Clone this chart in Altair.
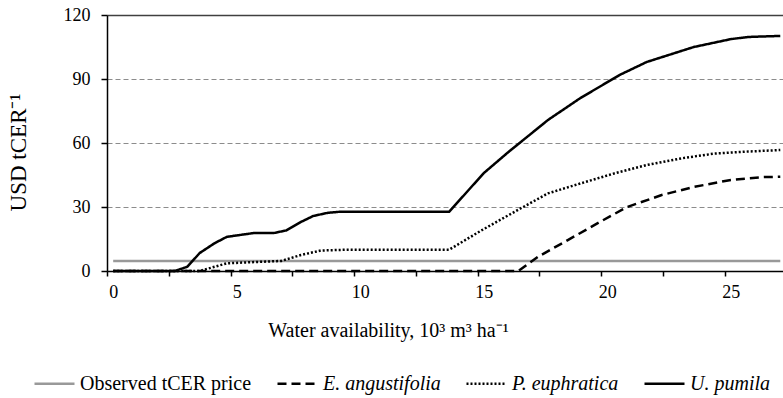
import altair as alt
import pandas as pd

# ---- data ----
series_names = ["Observed tCER price", "E. angustifolia", "P. euphratica", "U. pumila"]

obs_x = [0, 27.0]
obs_y = [4.7, 4.7]

ea_x = [0, 16.4, 17.2, 18.4, 19.7, 20.8, 22.2, 23.5, 25.0, 26.3, 27.0]
ea_y = [0, 0, 6.7, 14.5, 23.0, 30.0, 35.6, 39.4, 42.7, 44.0, 44.2]

pe_x = [0, 3.5, 4.6, 5.7, 6.8, 7.6, 8.4, 9.5, 13.6, 14.9, 16.5, 17.6, 18.9, 20.3, 21.6, 23.0, 24.3, 25.7, 27.0]
pe_y = [0, 0, 3.6, 4.2, 4.7, 7.5, 9.6, 10.0, 10.0, 19.0, 29.4, 36.4, 41.0, 45.8, 49.7, 52.8, 55.0, 56.0, 56.7]

up_x = [0, 2.5, 3.0, 3.5, 4.1, 4.6, 5.2, 5.7, 6.5, 7.0, 7.6, 8.1, 8.7, 9.2, 13.6, 15.0, 16.0, 17.6, 18.9,
        20.5, 21.6, 23.5, 25.0, 25.7, 27.0]
up_y = [0, 0, 2.0, 8.4, 13.0, 16.0, 17.0, 17.8, 17.8, 19.0, 23.0, 25.8, 27.3, 27.8, 27.8, 45.9, 55.8, 70.8, 81.0,
        91.9, 98.0, 105.0, 108.7, 109.7, 110.2]

y_ticks = [0, 30, 60, 90, 120]
x_ticks = [0, 2.5, 5, 7.5, 10, 12.5, 15, 17.5, 20, 22.5, 25]

rows = []
for name, xs, ys in zip(series_names, [obs_x, ea_x, pe_x, up_x], [obs_y, ea_y, pe_y, up_y]):
    for i, (a, b) in enumerate(zip(xs, ys)):
        rows.append({"series": name, "x": a, "y": b, "i": i})
df = pd.DataFrame(rows)

FONT = "Liberation Serif"

legend = alt.Legend(
    title=None,
    orient="none",
    direction="horizontal",
    legendX=-74,
    legendY=347,
    symbolType="stroke",
    symbolSize=1600,
    labelFont=FONT,
    labelFontSize=20,
    labelColor="#000000",
    labelOffset=4,
    labelLimit=0,
    columnPadding=20,
    labelFontStyle=alt.ExprRef("datum.label == 'Observed tCER price' ? 'normal' : 'italic'"),
)

chart = alt.Chart(df).mark_line(interpolate="linear").encode(
    x=alt.X(
        "x:Q",
        scale=alt.Scale(domain=[-0.25, 27.11], nice=False, zero=False),
        axis=alt.Axis(
            title="Water availability,  10³ m³ ha⁻¹",
            titleFont=FONT,
            titleFontSize=20,
            titleFontWeight="normal",
            titleColor="#000000",
            titleX=281,
            titleY=65,
            titleBaseline="alphabetic",
            titleAnchor="start",
            titleAlign="center",
            values=x_ticks,
            labelExpr="datum.value % 5 == 0 ? datum.label : ''",
            tickOffset=-6.18,
            labelOffset=6.18,
            labelFont=FONT,
            labelFontSize=18,
            labelColor="#000000",
            labelPadding=7,
            tickSize=5,
            tickColor="#000000",
            tickWidth=1.5,
            domainColor="#000000",
            domainWidth=1.5,
            grid=False,
        ),
    ),
    y=alt.Y(
        "y:Q",
        scale=alt.Scale(domain=[0, 120], nice=False),
        axis=alt.Axis(
            title="USD tCER⁻¹",
            titleFont=FONT,
            titleFontSize=23,
            titleFontWeight="normal",
            titleColor="#000000",
            titleX=-89,
            titleY=137,
            titleAngle=270,
            titleBaseline="middle",
            titleAlign="center",
            values=y_ticks,
            labelFont=FONT,
            labelFontSize=18,
            labelColor="#000000",
            labelPadding=11,
            tickSize=6,
            tickColor="#000000",
            tickWidth=1.5,
            domainColor="#000000",
            domainWidth=1.5,
            grid=True,
            gridColor={"condition": {"test": "datum.value == 120", "value": "#404040"}, "value": "#8c8c8c"},
            gridDash={"condition": {"test": "datum.value == 120", "value": []}, "value": [5, 3]},
            gridWidth={"condition": {"test": "datum.value == 120", "value": 1.5}, "value": 1},
        ),
    ),
    color=alt.Color(
        "series:N",
        scale=alt.Scale(domain=series_names, range=["#999999", "#000000", "#000000", "#000000"]),
        sort=series_names,
        legend=legend,
    ),
    strokeDash=alt.StrokeDash(
        "series:N",
        scale=alt.Scale(domain=series_names, range=[[1, 0], [9, 5], [2, 2], [1, 0]]),
        sort=series_names,
        legend=legend,
    ),
    strokeWidth=alt.StrokeWidth(
        "series:N",
        scale=alt.Scale(domain=series_names, range=[2.5, 2.5, 2, 2.5]),
        sort=series_names,
        legend=legend,
    ),
    order="i:Q",
).properties(
    width=676,
    height=256,
    autosize=alt.AutoSizeParams(type="none"),
    padding={"left": 107, "top": 15, "right": 0, "bottom": 127},
).configure_view(stroke=None).configure(font=FONT).configure_axis(labelFont=FONT, titleFont=FONT)

chart.save("out.html", embed_options={"renderer": "svg", "actions": False})
